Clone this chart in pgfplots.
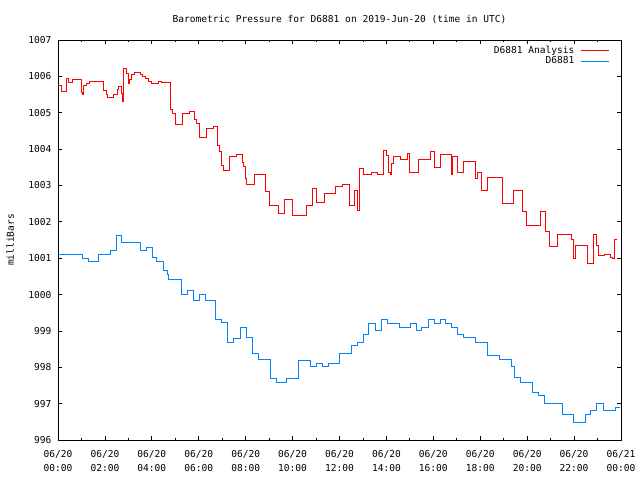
\documentclass[border=0pt]{standalone}
\usepackage{pgfplots}
\pgfplotsset{compat=1.18}
\usepackage{fontspec}
\setmainfont{DejaVu Sans Mono}
\definecolor{gpred}{RGB}{255,0,0}
\definecolor{gpblue}{RGB}{0,128,255}
\newcommand{\gf}{\fontsize{9.6}{14}\selectfont}
\begin{document}
\begin{tikzpicture}
\begin{axis}[
  scale only axis, width=563bp, height=400bp,
  xmin=0, xmax=24, ymin=996, ymax=1007,
  xtick={0,2,...,24},
  xticklabels={{06/20\\00:00},{06/20\\02:00},{06/20\\04:00},{06/20\\06:00},{06/20\\08:00},{06/20\\10:00},{06/20\\12:00},{06/20\\14:00},{06/20\\16:00},{06/20\\18:00},{06/20\\20:00},{06/20\\22:00},{06/21\\00:00}},
  minor xtick={1,3,...,23},
  ytick={996,997,...,1007},
  /pgf/number format/assume math mode=true,
  /pgf/number format/1000 sep={},
  tick align=inside,
  major tick length=4.5bp, minor tick length=2bp,
  tick style={black, line width=0.8bp},
  axis line style={black, line width=0.9bp},
  xticklabel style={align=center, anchor=north, inner sep=0pt, yshift=-10bp, font=\gf},
  yticklabel style={anchor=east, inner sep=0pt, xshift=-6.5bp, font=\gf},
  title={Barometric Pressure for D6881 on 2019-Jun-20 (time in UTC)},
  title style={at={(0.5,1)}, anchor=base, yshift=12bp, inner sep=0pt, font=\gf},
  ylabel={milliBars},
  ylabel style={at={([xshift=-44bp]axis description cs:0,0.5)}, anchor=base, inner sep=0pt, font=\gf},
  legend cell align=right,
  legend plot pos=right,
  legend image code/.code={\draw[#1] (0bp,0bp) -- (28bp,0bp);},
  legend style={at={(1,1)}, anchor=north east, xshift=-8.4bp, yshift=-4bp, draw=none, fill=none, font=\gf, row sep=1.8bp, column sep=6bp, nodes={inner sep=0pt}},
]
\addplot[const plot, draw=gpred, line width=1bp] coordinates {
(0.00,1005.76) (0.13,1005.58) (0.35,1005.95) (0.45,1005.84) (0.62,1005.90)
(1.00,1005.55) (1.06,1005.50) (1.10,1005.75) (1.20,1005.81) (1.36,1005.85)
(1.95,1005.60) (2.05,1005.49) (2.12,1005.42) (2.38,1005.49) (2.55,1005.65)
(2.60,1005.72) (2.70,1005.53) (2.75,1005.30) (2.80,1006.22) (2.93,1006.08)
(3.00,1005.80) (3.05,1005.90) (3.12,1006.04) (3.25,1006.10) (3.50,1006.06)
(3.60,1005.99) (3.75,1005.94) (3.85,1005.87) (3.98,1005.79) (4.30,1005.85)
(4.40,1005.84) (4.80,1005.10) (4.90,1004.98) (5.00,1004.68) (5.32,1004.98)
(5.62,1005.03) (5.82,1004.82) (5.92,1004.71) (6.05,1004.32) (6.35,1004.57)
(6.65,1004.62) (6.78,1004.11) (6.88,1003.93) (6.98,1003.54) (7.05,1003.42)
(7.30,1003.79) (7.62,1003.86) (7.85,1003.63) (7.92,1003.52) (7.98,1003.20)
(8.05,1003.03) (8.37,1003.31) (8.85,1002.83) (9.02,1002.46) (9.40,1002.23)
(9.65,1002.62) (9.98,1002.16) (10.58,1002.46) (10.85,1002.92) (11.00,1002.54)
(11.38,1002.78) (11.85,1002.98) (12.12,1003.03) (12.42,1002.45) (12.66,1002.87)
(12.75,1002.45) (12.78,1002.32) (12.84,1003.47) (13.02,1003.29) (13.38,1003.36)
(13.62,1003.29) (13.88,1003.97) (14.00,1003.81) (14.08,1003.36) (14.16,1003.31)
(14.22,1003.61) (14.32,1003.79) (14.62,1003.72) (14.90,1003.88) (15.00,1003.36)
(15.38,1003.72) (15.88,1003.93) (16.03,1003.49) (16.30,1003.84) (16.79,1003.31)
(16.83,1003.79) (17.02,1003.36) (17.28,1003.67) (17.78,1003.18) (17.88,1003.36)
(18.04,1002.86) (18.30,1003.21) (18.95,1002.51) (19.40,1002.86) (19.82,1002.28)
(19.99,1001.91) (20.57,1002.28) (20.80,1001.73) (20.96,1001.32) (21.30,1001.66)
(21.87,1001.50) (21.99,1001.00) (22.05,1001.34) (22.56,1000.86) (22.82,1001.66)
(22.97,1001.35) (23.02,1001.06) (23.28,1001.09) (23.55,1001.03) (23.65,1001.00)
(23.74,1001.52) (23.81,1001.52)
};
\addlegendentry{D6881 Analysis}
\addplot[const plot, draw=gpblue, line width=1bp] coordinates {
(0.00,1001.11) (1.04,1001.00) (1.31,1000.92) (1.72,1001.11) (2.22,1001.21)
(2.48,1001.61) (2.72,1001.43) (3.50,1001.22) (3.78,1001.30) (4.02,1001.01)
(4.20,1000.92) (4.48,1000.65) (4.68,1000.54) (4.73,1000.40) (5.26,1000.00)
(5.52,1000.10) (5.76,999.83) (6.02,1000.00) (6.27,999.83) (6.70,999.30)
(6.99,999.23) (7.22,998.69) (7.48,998.80) (7.76,999.10) (8.02,998.81)
(8.30,998.38) (8.55,998.20) (9.05,997.69) (9.32,997.58) (9.73,997.69)
(10.26,998.18) (10.76,998.02) (11.00,998.11) (11.26,998.02) (11.52,998.11)
(12.00,998.38) (12.50,998.61) (12.78,998.69) (13.02,998.91) (13.24,999.21)
(13.53,999.00) (13.78,999.30) (14.04,999.21) (14.55,999.10) (15.02,999.21)
(15.27,999.00) (15.50,999.10) (15.78,999.30) (16.04,999.21) (16.30,999.30)
(16.53,999.21) (16.78,999.10) (17.02,998.91) (17.29,998.81) (17.78,998.69)
(18.30,998.32) (18.84,998.20) (19.34,998.02) (19.48,997.71) (19.72,997.58)
(20.21,997.30) (20.48,997.21) (20.72,996.99) (21.50,996.71) (21.99,996.49)
(22.47,996.71) (22.72,996.80) (22.96,996.99) (23.25,996.80) (23.75,996.90)
(23.96,996.90)
};
\addlegendentry{D6881}
\end{axis}
\pgfresetboundingbox
\path[use as bounding box] (-58bp,-40bp) rectangle (582bp,440bp);
\end{tikzpicture}
\end{document}
